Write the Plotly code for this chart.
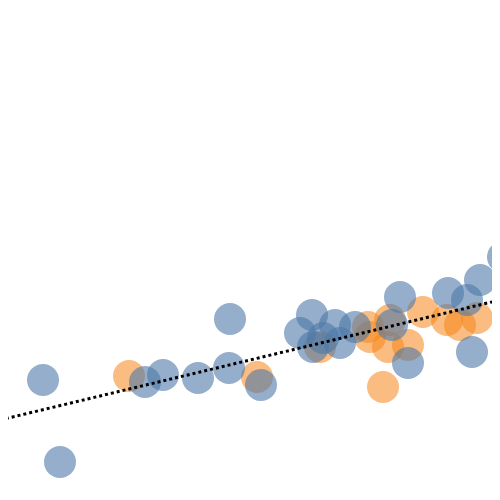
import plotly.graph_objects as go

blue_x = [43, 60, 145, 163, 198, 229, 230, 261, 300, 312, 313, 323, 335, 340, 355, 392, 400, 408, 448, 467, 472, 480, 503]
blue_y = [120, 38, 118, 125, 122, 132, 181, 115, 167, 185, 153, 162, 175, 157, 173, 175, 203, 137, 207, 200, 148, 220, 243]

orange_x = [129, 257, 320, 368, 370, 383, 388, 390, 408, 423, 447, 460, 477]
orange_y = [124, 123, 153, 173, 163, 113, 153, 180, 155, 188, 180, 175, 182]

trend_x = [0, 500]
trend_y = [80, 200]

fig = go.Figure()
fig.add_trace(go.Scatter(x=orange_x, y=orange_y, mode="markers",
                         marker=dict(size=32, color="#f58518", opacity=0.55, line=dict(width=0)),
                         showlegend=False))
fig.add_trace(go.Scatter(x=blue_x, y=blue_y, mode="markers",
                         marker=dict(size=32, color="#4c78a8", opacity=0.6, line=dict(width=0)),
                         showlegend=False))
fig.add_trace(go.Scatter(x=trend_x, y=trend_y, mode="lines",
                         line=dict(color="black", width=3, dash="dot"),
                         showlegend=False))
fig.update_layout(width=500, height=500, margin=dict(l=0, r=0, t=0, b=0),
                  paper_bgcolor="white", plot_bgcolor="white",
                  xaxis=dict(range=[8, 508], visible=False),
                  yaxis=dict(range=[-8, 492], visible=False))
fig.write_html("out.html")
